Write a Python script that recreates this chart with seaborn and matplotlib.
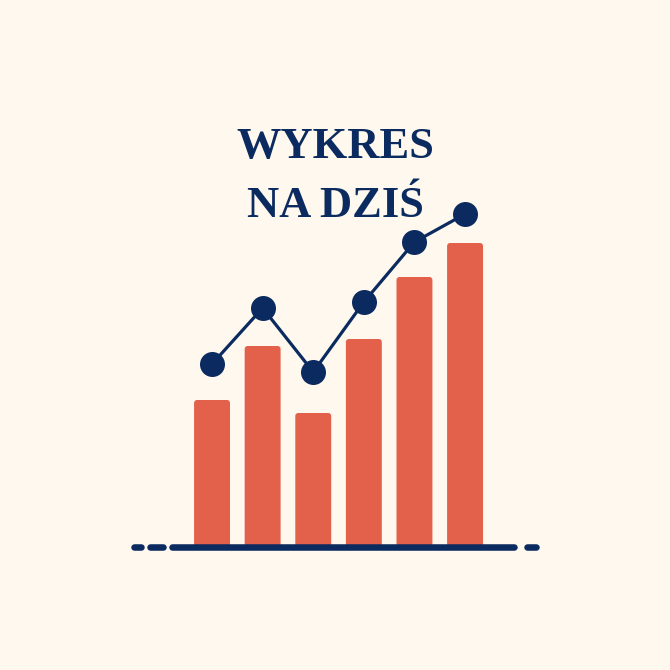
import pandas as pd
import seaborn as sns
import matplotlib.pyplot as plt
from matplotlib.patches import FancyBboxPatch

# Chart data
categories = ['1', '2', '3', '4', '5', '6']
bar_values = [14.7, 20.1, 13.4, 20.8, 27.0, 30.4]
line_values = [18.3, 23.9, 17.5, 24.5, 30.5, 33.3]
title_lines = ['WYKRES', 'NA DZIŚ']

BG = '#FEF8EE'
BAR = '#E3614B'
NAVY = '#0B2A5F'

df = pd.DataFrame({'cat': categories, 'bar': bar_values, 'line': line_values})

sns.set_theme(style='white')
plt.rcParams['font.family'] = ['Liberation Serif', 'DejaVu Serif']

fig = plt.figure(figsize=(6.7, 6.7), dpi=100, facecolor=BG)
ax = fig.add_axes([0, 0, 1, 1])
ax.set_facecolor(BG)

sns.barplot(data=df, x='cat', y='bar', color=BAR, width=0.71,
            saturation=1, edgecolor='none', ax=ax, zorder=2)

# round the bar corners a little
x_per_px = 1 / 50.6
y_per_px = 0.1
for p in list(ax.patches):
    x0, y0 = p.get_x(), p.get_y()
    w, h = p.get_width(), p.get_height()
    p.remove()
    ax.add_patch(FancyBboxPatch((x0, y0), w, h,
                                boxstyle=f'round,pad=0,rounding_size={3 * x_per_px}',
                                mutation_aspect=y_per_px / x_per_px,
                                facecolor=BAR, edgecolor='none', zorder=2))

sns.lineplot(data=df, x='cat', y='line', color=NAVY, linewidth=2.3,
             marker='o', markersize=18, markeredgewidth=0, ax=ax, zorder=3)

ax.set_xlim(-4.19, 9.05)
ax.set_ylim(-12.3, 54.7)
ax.axis('off')

# dashed base line (axes-fraction decoration)
base_y = 1 - 547 / 670
for a, b in [(134, 141), (150, 163), (172, 514), (527, 536)]:
    ax.plot([a / 670, b / 670], [base_y, base_y], transform=ax.transAxes,
            color=NAVY, linewidth=4.7, solid_capstyle='round', zorder=4)

fig.text(0.5, 1 - 157.7 / 670, title_lines[0], ha='center', va='baseline',
         fontsize=32, fontweight='bold', color=NAVY)
fig.text(0.5, 1 - 216.7 / 670, title_lines[1], ha='center', va='baseline',
         fontsize=32, fontweight='bold', color=NAVY)

fig.savefig('out.png', dpi=100, facecolor=BG)
